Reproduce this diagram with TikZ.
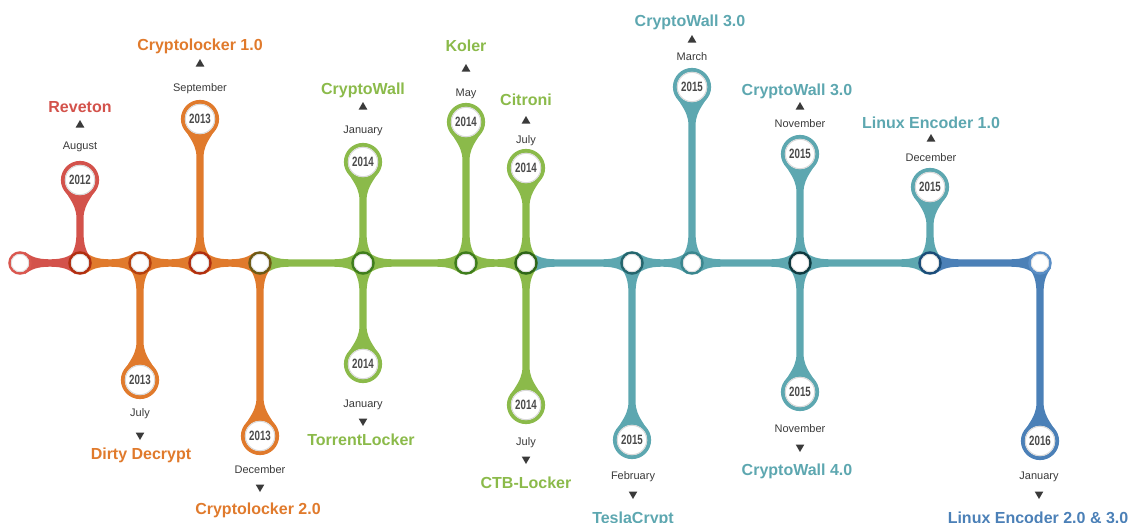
\documentclass[tikz,border=0pt]{standalone}
\usepackage{fontspec}
\setmainfont{Liberation Sans}
\usetikzlibrary{shapes.geometric,backgrounds,calc}
\definecolor{cred}{HTML}{D3524B}
\definecolor{corange}{HTML}{E07A2C}
\definecolor{cgreen}{HTML}{8BBA4A}
\definecolor{cteal}{HTML}{5DA7B0}
\definecolor{cblue}{HTML}{4B80B7}
\definecolor{ctext}{HTML}{3A3A3A}
\definecolor{cyear}{HTML}{4A4A4A}
\definecolor{jred}{HTML}{D9574F}
\definecolor{jdred}{HTML}{B02E10}
\definecolor{jdred2}{HTML}{B5400F}
\definecolor{jolive}{HTML}{6E5A14}
\definecolor{jdgreen}{HTML}{3F7D1C}
\definecolor{jgreen2}{HTML}{2E6518}
\definecolor{jteal}{HTML}{24666E}
\definecolor{jteal2}{HTML}{3A868E}
\definecolor{jdteal}{HTML}{0F3A40}
\definecolor{jdblue}{HTML}{1B4C78}
\definecolor{jlblue}{HTML}{5A8EC6}
\newcommand\segfill[3]{%
 \fill[#3] let \p1=(#1.center), \p2=(#2.center) in
 (\x1+5pt,\y1+11pt) .. controls (\x1+11pt,\y1+6.5pt) and (\x1+17pt,\y1+3.7pt) .. (\x1+30pt,\y1+3.7pt)
 -- (\x2-30pt,\y1+3.7pt) .. controls (\x2-17pt,\y1+3.7pt) and (\x2-11pt,\y1+6.5pt) .. (\x2-5pt,\y1+11pt)
 -- (\x2-5pt,\y1-11pt) .. controls (\x2-11pt,\y1-6.5pt) and (\x2-17pt,\y1-3.7pt) .. (\x2-30pt,\y1-3.7pt)
 -- (\x1+30pt,\y1-3.7pt) .. controls (\x1+17pt,\y1-3.7pt) and (\x1+11pt,\y1-6.5pt) .. (\x1+5pt,\y1-11pt) -- cycle;}
\newcommand\stemfill[3]{%
 \fill[#3] let \p1=(#1.center), \p2=(#2.center), \n1={ifthenelse(\y2>\y1,1,-1)} in
 (\x1-11pt,\y1+\n1*5pt) .. controls (\x1-6.5pt,\y1+\n1*11pt) and (\x1-3.6pt,\y1+\n1*17pt) .. (\x1-3.6pt,\y1+\n1*30pt)
 -- (\x1-3.6pt,\y2-\n1*38pt) .. controls (\x1-3.6pt,\y2-\n1*21pt) and (\x1-17pt,\y2-\n1*14pt) .. (\x1-19pt,\y2)
 -- (\x1+19pt,\y2) .. controls (\x1+17pt,\y2-\n1*14pt) and (\x1+3.6pt,\y2-\n1*21pt) .. (\x1+3.6pt,\y2-\n1*38pt)
 -- (\x1+3.6pt,\y1+\n1*30pt) .. controls (\x1+3.6pt,\y1+\n1*17pt) and (\x1+6.5pt,\y1+\n1*11pt) .. (\x1+11pt,\y1+\n1*5pt) -- cycle;}
\tikzset{
 junc/.style={circle, draw=#1, line width=2.5pt, fill=white, minimum size=21pt, inner sep=0pt},
 bubble/.style={circle, draw=#1, line width=3.8pt, fill=white, minimum size=34.4pt, inner sep=0pt, text=cyear, font=\bfseries\fontsize{13.5}{14}\selectfont},
 ttl/.style={anchor=base, font=\bfseries\fontsize{16}{18}\selectfont, text=#1, inner sep=0pt},
 mon/.style={anchor=base, font=\fontsize{11}{12}\selectfont, text=ctext, inner sep=0pt},
 triup/.style={regular polygon, regular polygon sides=3, fill=ctext, minimum size=10pt, inner sep=0pt},
 tridown/.style={triup, shape border rotate=180},
 bshade/.style={draw=gray!30, line width=1pt},
 jshade/.style={draw=gray!25, line width=0.8pt},
}
\newcommand\yr[1]{\scalebox{0.72}[1]{#1}}
\begin{document}
\begin{tikzpicture}[x=1pt,y=-1pt]
\useasboundingbox (0,0) rectangle (1134,522);
% junctions
\node[junc=jred]    (j1)  at (20,263) {};
\node[junc=jdred]   (j2)  at (80,263) {};
\node[junc=jdred2]  (j3)  at (140,263) {};
\node[junc=jdred]   (j4)  at (200,263) {};
\node[junc=jolive]  (j5)  at (260,263) {};
\node[junc=jdgreen] (j6)  at (363,263) {};
\node[junc=jdgreen] (j7)  at (466,263) {};
\node[junc=jgreen2] (j8)  at (526,263) {};
\node[junc=jteal]   (j9)  at (632,263) {};
\node[junc=jteal2]  (j10) at (692,263) {};
\node[junc=jdteal]  (j11) at (800,263) {};
\node[junc=jdblue]  (j12) at (930,263) {};
\node[junc=jlblue]  (j13) at (1040,263) {};
% bubbles
\node[bubble=cred]    (b1)  at (80,180)  {\yr{2012}};
\node[bubble=corange] (b2)  at (140,380) {\yr{2013}};
\node[bubble=corange] (b3)  at (200,119) {\yr{2013}};
\node[bubble=corange] (b4)  at (260,436) {\yr{2013}};
\node[bubble=cgreen]  (b5)  at (363,162) {\yr{2014}};
\node[bubble=cgreen]  (b6)  at (363,364) {\yr{2014}};
\node[bubble=cgreen]  (b7)  at (466,122) {\yr{2014}};
\node[bubble=cgreen]  (b8)  at (526,168) {\yr{2014}};
\node[bubble=cgreen]  (b9)  at (526,405) {\yr{2014}};
\node[bubble=cteal]   (b10) at (632,440) {\yr{2015}};
\node[bubble=cteal]   (b11) at (692,87)  {\yr{2015}};
\node[bubble=cteal]   (b12) at (800,154) {\yr{2015}};
\node[bubble=cteal]   (b13) at (800,392) {\yr{2015}};
\node[bubble=cteal]   (b14) at (930,187) {\yr{2015}};
\node[bubble=cblue]   (b15) at (1040,441) {\yr{2016}};
% inner shadows
\foreach \b in {b1,b2,b3,b4,b5,b6,b7,b8,b9,b10,b11,b12,b13,b14,b15}
  \path[bshade] (\b.center) circle (14.7);
\foreach \j in {j1,j2,j3,j4,j5,j6,j7,j8,j9,j10,j11,j12,j13}
  \path[jshade] (\j.center) circle (8.7);
\begin{pgfonlayer}{background}
\segfill{j1}{j2}{cred}
\segfill{j2}{j3}{corange}
\segfill{j3}{j4}{corange}
\segfill{j4}{j5}{corange}
\segfill{j5}{j6}{cgreen}
\segfill{j6}{j7}{cgreen}
\segfill{j7}{j8}{cgreen}
\segfill{j8}{j9}{cteal}
\segfill{j9}{j10}{cteal}
\segfill{j10}{j11}{cteal}
\segfill{j11}{j12}{cteal}
\segfill{j12}{j13}{cblue}
\stemfill{j2}{b1}{cred}
\stemfill{j3}{b2}{corange}
\stemfill{j4}{b3}{corange}
\stemfill{j5}{b4}{corange}
\stemfill{j6}{b5}{cgreen}
\stemfill{j6}{b6}{cgreen}
\stemfill{j7}{b7}{cgreen}
\stemfill{j8}{b8}{cgreen}
\stemfill{j8}{b9}{cgreen}
\stemfill{j9}{b10}{cteal}
\stemfill{j10}{b11}{cteal}
\stemfill{j11}{b12}{cteal}
\stemfill{j11}{b13}{cteal}
\stemfill{j12}{b14}{cteal}
\stemfill{j13}{b15}{cblue}
\end{pgfonlayer}
% labels: months, arrows, titles
\node[mon] (m1) at (80,149) {August};
\node[triup] (a1) at (80,125) {};
\node[ttl=cred] (t1) at (80,112) {Reveton};

\node[mon] (m2) at (140,416) {July};
\node[tridown] (a2) at (140,435) {};
\node[ttl=corange] (t2) at (141,459) {Dirty Decrypt};

\node[mon] (m3) at (200,91) {September};
\node[triup] (a3) at (200,64) {};
\node[ttl=corange] (t3) at (200,50) {Cryptolocker 1.0};

\node[mon] (m4) at (260,473) {December};
\node[tridown] (a4) at (260,487) {};
\node[ttl=corange] (t4) at (258,514) {Cryptolocker 2.0};

\node[mon] (m5) at (363,133) {January};
\node[triup] (a5) at (363,107) {};
\node[ttl=cgreen] (t5) at (363,94) {CryptoWall};

\node[mon] (m6) at (363,407) {January};
\node[tridown] (a6) at (363,421) {};
\node[ttl=cgreen] (t6) at (361,445) {TorrentLocker};

\node[mon] (m7) at (466,96) {May};
\node[triup] (a7) at (466,69) {};
\node[ttl=cgreen] (t7) at (466,51) {Koler};

\node[mon] (m8) at (526,143) {July};
\node[triup] (a8) at (526,121) {};
\node[ttl=cgreen] (t8) at (526,105) {Citroni};

\node[mon] (m9) at (526,445) {July};
\node[tridown] (a9) at (526,459) {};
\node[ttl=cgreen] (t9) at (526,488) {CTB-Locker};

\node[mon] (m10) at (633,479) {February};
\node[tridown] (a10) at (633,494) {};
\node[ttl=cteal] (t10) at (633,523) {TeslaCrypt};

\node[mon] (m11) at (692,60) {March};
\node[triup] (a11) at (692,40) {};
\node[ttl=cteal] (t11) at (690,27) {CryptoWall 3.0};

\node[mon] (m12) at (800,127) {November};
\node[triup] (a12) at (800,107) {};
\node[ttl=cteal] (t12) at (797,95) {CryptoWall 3.0};

\node[mon] (m13) at (800,432) {November};
\node[tridown] (a13) at (800,447) {};
\node[ttl=cteal] (t13) at (797,475) {CryptoWall 4.0};

\node[mon] (m14) at (931,161) {December};
\node[triup] (a14) at (931,139) {};
\node[ttl=cteal] (t14) at (931,128) {Linux Encoder 1.0};

\node[mon] (m15) at (1039,479) {January};
\node[tridown] (a15) at (1039,494) {};
\node[ttl=cblue] (t15) at (1038,523) {Linux Encoder 2.0 \& 3.0};
\end{tikzpicture}
\end{document}
